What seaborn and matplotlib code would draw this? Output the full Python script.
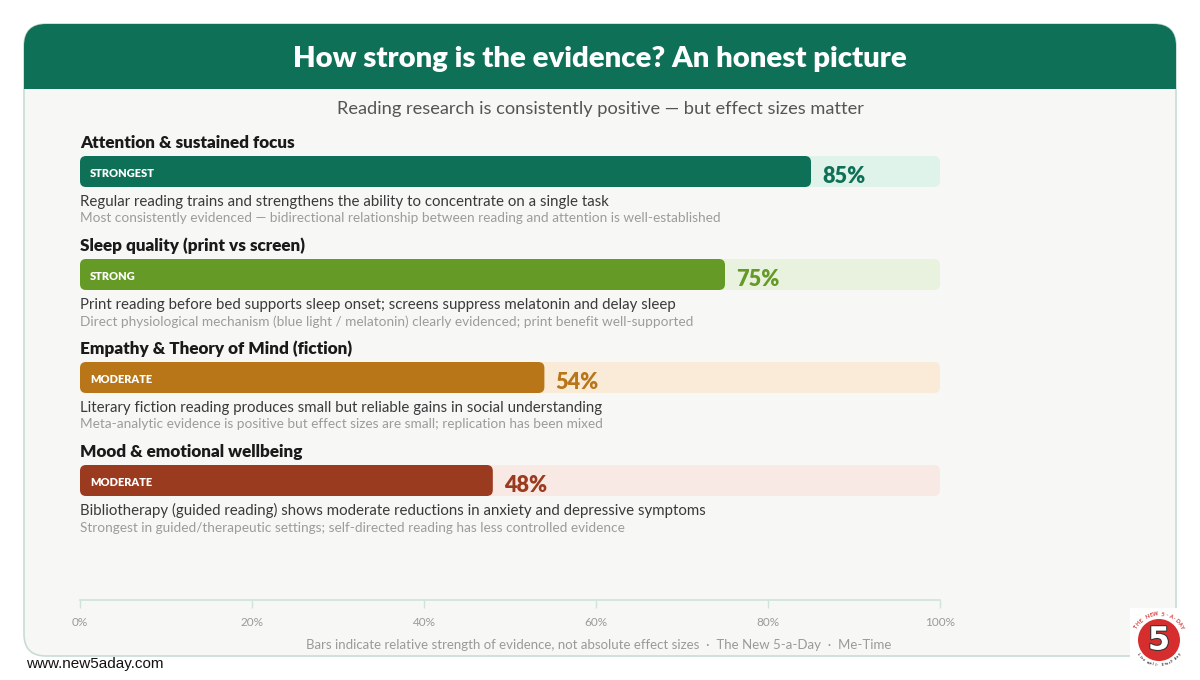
import numpy as np
import matplotlib
matplotlib.use("Agg")
import matplotlib.pyplot as plt
from matplotlib.patches import FancyBboxPatch, Rectangle, Circle
import matplotlib.patheffects as pe
import seaborn as sns

# ---------------- data ----------------
categories = [
    "Attention & sustained focus",
    "Sleep quality (print vs screen)",
    "Empathy & Theory of Mind (fiction)",
    "Mood & emotional wellbeing",
]
scores = [85, 75, 54, 48]
levels = ["STRONGEST", "STRONG", "MODERATE", "MODERATE"]
descriptions = [
    "Regular reading trains and strengthens the ability to concentrate on a single task",
    "Print reading before bed supports sleep onset; screens suppress melatonin and delay sleep",
    "Literary fiction reading produces small but reliable gains in social understanding",
    "Bibliotherapy (guided reading) shows moderate reductions in anxiety and depressive symptoms",
]
notes = [
    "Most consistently evidenced \u2014 bidirectional relationship between reading and attention is well-established",
    "Direct physiological mechanism (blue light / melatonin) clearly evidenced; print benefit well-supported",
    "Meta-analytic evidence is positive but effect sizes are small; replication has been mixed",
    "Strongest in guided/therapeutic settings; self-directed reading has less controlled evidence",
]
track_max = [100, 100, 100, 100]
tick_values = [0, 20, 40, 60, 80, 100]
tick_labels = ["0%", "20%", "40%", "60%", "80%", "100%"]

title = "How strong is the evidence? An honest picture"
subtitle = "Reading research is consistently positive \u2014 but effect sizes matter"
footer = "Bars indicate relative strength of evidence, not absolute effect sizes  \u00b7  The New 5-a-Day  \u00b7  Me-Time"
website = "www.new5aday.com"

# ---------------- style ----------------
bar_colors = ["#0F7058", "#659A26", "#B97618", "#9A3A1E"]
track_colors = ["#E0F3EA", "#E9F2DE", "#FAEBD9", "#F8E9E4"]
GREEN = "#0F7058"
CARD_BG = "#F7F7F5"
BORDER = "#CADCD5"

sns.set_theme(style="white")
plt.rcParams["font.family"] = ["Lato", "DejaVu Sans"]

W, H = 1200, 680
fig = plt.figure(figsize=(12, 6.8), dpi=100, facecolor="white")

# background/decoration axes in pixel coordinates
bg = fig.add_axes([0, 0, 1, 1], zorder=0)
bg.set_xlim(0, W)
bg.set_ylim(H, 0)
bg.axis("off")

card = FancyBboxPatch((24, 24), 1152, 632, boxstyle="round,pad=0,rounding_size=22",
                      facecolor=CARD_BG, edgecolor=BORDER, linewidth=1.2)
bg.add_patch(card)
header = Rectangle((24, 24), 1152, 65, facecolor=GREEN, edgecolor="none")
bg.add_patch(header)
header.set_clip_path(card)

renderer = fig.canvas.get_renderer()


def fit(t, target_w):
    bb = t.get_window_extent(renderer)
    t.set_fontsize(t.get_fontsize() * target_w / bb.width)
    return t


def fit_group(texts, widths):
    sizes = []
    for t, w in zip(texts, widths):
        bb = t.get_window_extent(renderer)
        sizes.append(t.get_fontsize() * w / bb.width)
    s = float(np.mean(sizes))
    for t in texts:
        t.set_fontsize(s)


t_title = bg.text(600, 67, title, ha="center", va="baseline", color="white",
                  fontsize=20, fontweight="heavy")
fit(t_title, 614)
t_sub = bg.text(600, 114, subtitle, ha="center", va="baseline", color="#555555",
                fontsize=12)
fit(t_sub, 525)
t_foot = bg.text(599, 649, footer, ha="center", va="baseline", color="#9A9A9A",
                 fontsize=9)
fit(t_foot, 586)
t_web = bg.text(26, 668, website, ha="left", va="baseline", color="#111111",
                fontsize=10, family=["Liberation Sans", "DejaVu Sans"])
fit(t_web, 138)

# logo
bg.add_patch(Rectangle((1130, 608), 60, 65, facecolor="white", edgecolor="none"))
cx, cy, r = 1159, 640, 21
bg.add_patch(Circle((cx, cy), r, facecolor="#D62E2E", edgecolor="none"))
bg.text(cx, cy + 1, "5", ha="center", va="center", color="white", fontsize=23,
        fontweight="bold", family=["DejaVu Sans"],
        path_effects=[pe.withStroke(linewidth=1.5, foreground="#333333")])
arc_top = "THE NEW 5-A-DAY"
angs = np.linspace(150, 30, len(arc_top))
for ch, a in zip(arc_top, angs):
    ar = np.deg2rad(a)
    bg.text(cx + 26 * np.cos(ar), cy - 26 * np.sin(ar), ch, ha="center", va="center",
            fontsize=3.8, fontweight="bold", color="#D62E2E", rotation=a - 90)
arc_bot = "Live well, Every day"
angs = np.linspace(215, 325, len(arc_bot))
for ch, a in zip(arc_bot, angs):
    ar = np.deg2rad(a)
    bg.text(cx + 25 * np.cos(ar), cy - 25 * np.sin(ar), ch, ha="center", va="center",
            fontsize=2.8, fontweight="bold", color="#222222", rotation=a + 90)

# ---------------- bar axes ----------------
x0, x1 = 80, 940          # pixel extent of 0..100
ytop, ybot = 130, 600      # pixel extent of axes
c0, step = 171.5, 103.0    # first bar centre, spacing (px)
ax = fig.add_axes([x0 / W, 1 - ybot / H, (x1 - x0) / W, (ybot - ytop) / H], zorder=1)
ax.patch.set_alpha(0)

bar_h = 31 / step
ax.barh(np.arange(len(categories)), track_max, height=bar_h, color=track_colors,
        linewidth=0, zorder=0)
sns.barplot(x=scores, y=categories, hue=categories, palette=bar_colors, orient="h",
            width=bar_h, ax=ax, legend=False, linewidth=0, saturation=1, zorder=1)

ax.set_xlim(0, 100)
ax.set_ylim((ybot - c0) / step, (ytop - c0) / step)

# round the bar corners
xu = 100 / (x1 - x0)        # data units per px in x
yu = 1 / step               # data units per px in y
rad_px = 6
for p in list(ax.patches):
    if not isinstance(p, Rectangle):
        continue
    bx, by, bw, bh = p.get_x(), p.get_y(), p.get_width(), p.get_height()
    if bw <= 0:
        continue
    rp = FancyBboxPatch((bx, by), bw, bh,
                        boxstyle=f"round,pad=0,rounding_size={rad_px * xu}",
                        mutation_aspect=yu / xu, facecolor=p.get_facecolor(),
                        edgecolor="none", zorder=p.get_zorder())
    p.remove()
    ax.add_patch(rp)

# texts attached to each bar
cat_texts, desc_texts, note_texts, lvl_texts, pct_texts = [], [], [], [], []
for i, (cat, sc, lv, d, n, col) in enumerate(zip(categories, scores, levels, descriptions,
                                                 notes, bar_colors)):
    cat_texts.append(ax.text(0, i - 23.5 * yu, cat, ha="left", va="baseline",
                             color="#1A1A1A", fontsize=12, fontweight="heavy", clip_on=False))
    lvl_texts.append(ax.text(10 * xu, i + 5.5 * yu, lv, ha="left", va="baseline",
                             color="white", fontsize=6.5, fontweight="heavy", clip_on=False))
    pct_texts.append(ax.text(sc + 11 * xu, i + 11.2 * yu, f"{sc}%", ha="left", va="baseline",
                             color=col, fontsize=13, fontweight="heavy", clip_on=False))
    desc_texts.append(ax.text(0, i + 34.5 * yu, d, ha="left", va="baseline",
                              color="#3A3A3A", fontsize=10, clip_on=False))
    note_texts.append(ax.text(0, i + 51 * yu, n, ha="left", va="baseline",
                              color="#9C9C9C", fontsize=9, fontweight="normal", clip_on=False))

fit_group(cat_texts, [214, 233, 268, 220])
fit_group(desc_texts, [526, 593, 522, 628])
fit_group(note_texts, [634, 612, 521, 543])
fit_group(lvl_texts, [65, 47, 60, 60])
fit_group(pct_texts, [44, 41, 44, 44])

# axis styling
ax.set_yticks([])
ax.set_ylabel("")
ax.set_xlabel("")
ax.set_xticks(tick_values)
ax.set_xticklabels(tick_labels)
for s in ["top", "left", "right"]:
    ax.spines[s].set_visible(False)
ax.spines["bottom"].set_color("#CFE3DC")
ax.spines["bottom"].set_linewidth(1.2)
ax.tick_params(axis="x", direction="out", length=6, width=1, color="#CFE3DC",
               labelcolor="#9A9A9A", labelsize=8.5, pad=6, bottom=True)
for lab in ax.get_xticklabels():
    lab.set_fontweight("normal")

fig.savefig("out.png", dpi=100, facecolor="white")
